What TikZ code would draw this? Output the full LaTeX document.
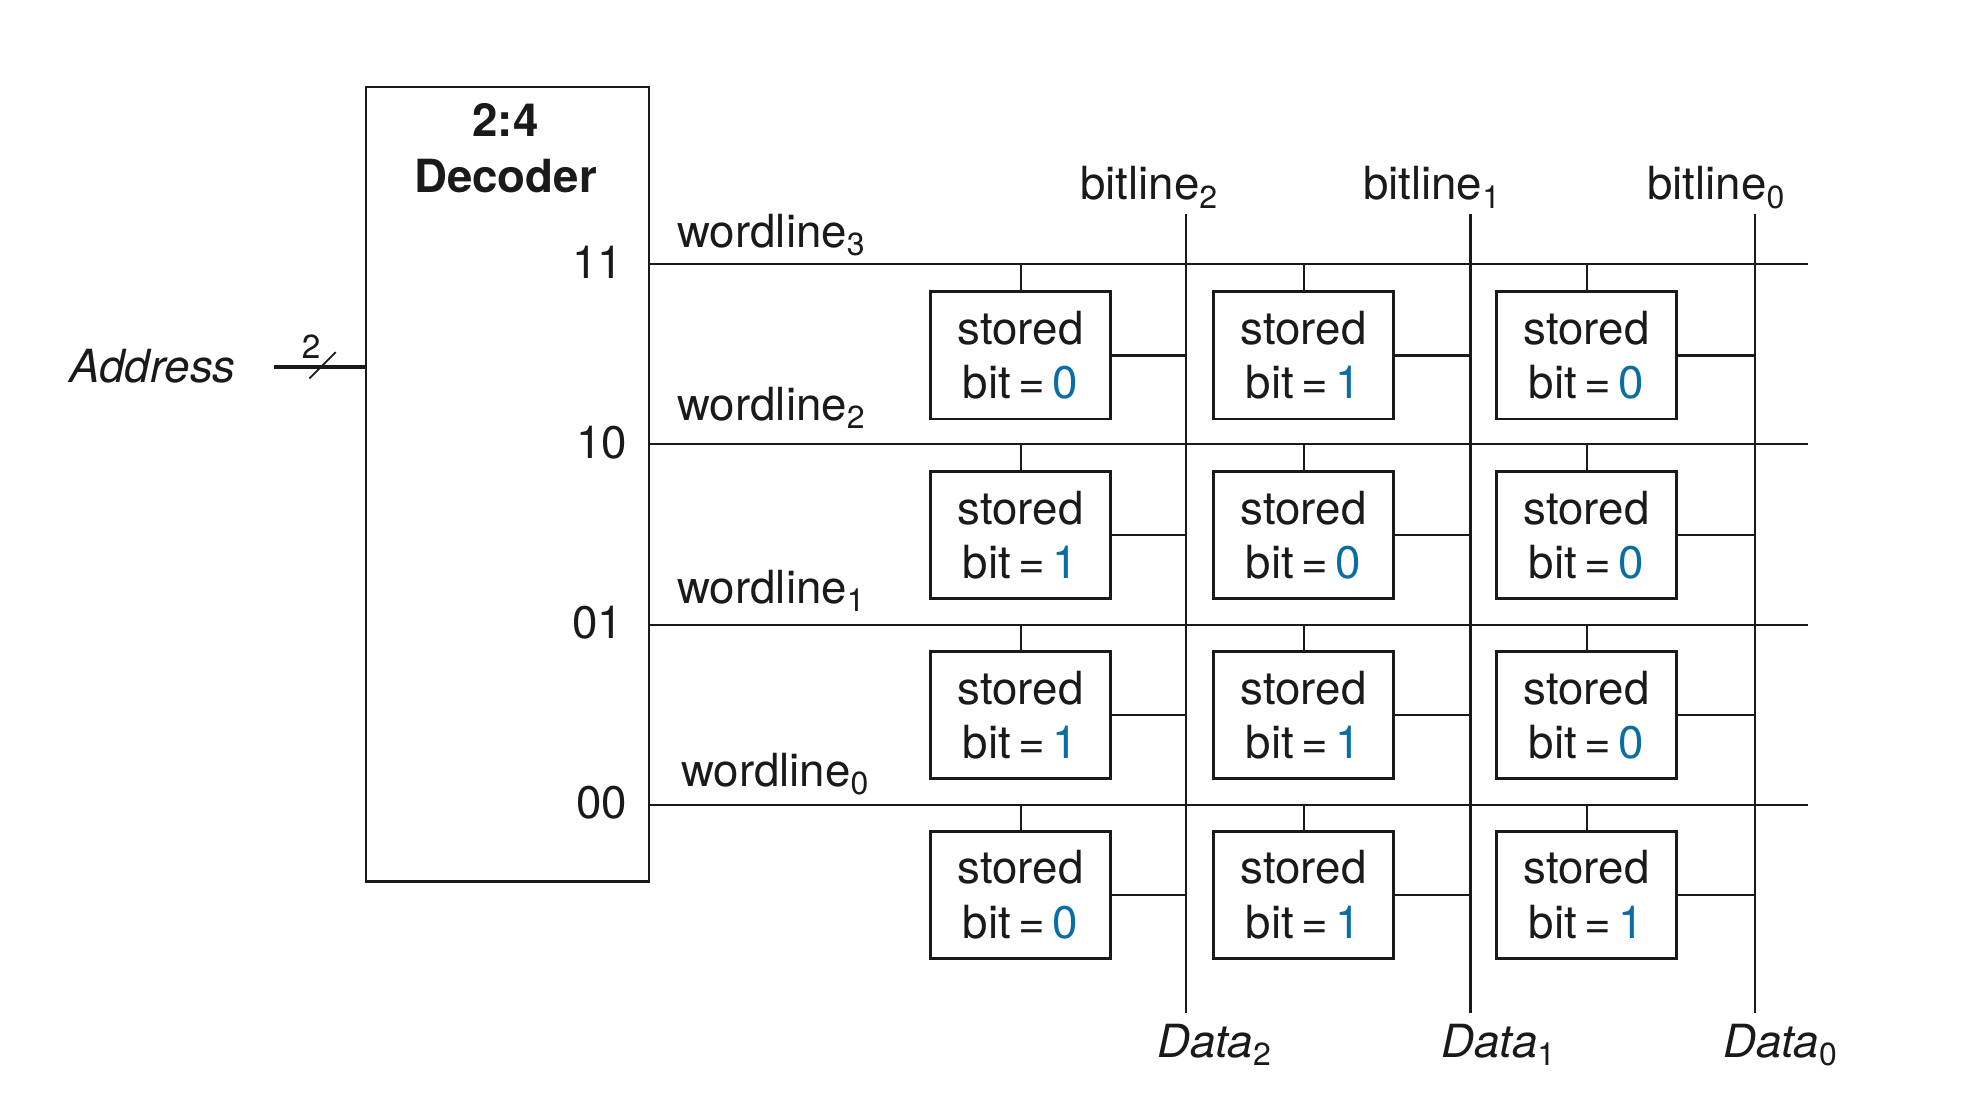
\documentclass[tikz,border=0pt]{standalone}
\usepackage{fontspec}
\setmainfont{TeX Gyre Heros}
\usepackage{xcolor}
\usetikzlibrary{calc, positioning}
\definecolor{k1}{HTML}{1a1a1a}
\definecolor{bb}{RGB}{10, 110, 165}
\newcommand{\bitval}[1]{bit\,=\,\textcolor{bb}{#1}}

\begin{document}
\begin{tikzpicture}[scale=1.258,
	every node/.style={font=\fontsize{13}{15.5}\selectfont, text=k1, inner sep=0pt},
	wire/.style={draw=k1, line width=0.65pt},
	bus/.style={draw=k1, line width=1.1pt},
	cell/.style={draw=k1, line width=0.75pt, fill=white, minimum width=1.80cm, minimum height=1.271cm, align=center}]
	\useasboundingbox (0,0) rectangle (15.68,-8.857);

	% decoder
	\node[draw=k1, line width=0.75pt, minimum width=2.83cm, minimum height=7.95cm, anchor=north west] (dec) at (2.90,-0.68) {};
	\node[font=\fontsize{13}{15.8}\selectfont\bfseries, align=center, anchor=north] (declbl) at (4.02,-0.82) {2:4\\Decoder};
	\node[anchor=east] (o3) at (4.96,-2.085) {11};
	\node[anchor=east] (o2) at (4.99,-3.52) {10};
	\node[anchor=east] (o1) at (4.96,-4.95) {01};
	\node[anchor=east] (o0) at (4.99,-6.38) {00};

	% address bus
	\node[anchor=base east] (addr) at (1.88,-3.04) {\itshape Address};
	\coordinate (ain) at (2.18,-2.92);
	\draw[bus] (ain) -- (ain -| dec.west);
	\draw[wire, line width=0.5pt] (2.46,-3.01) -- (2.67,-2.80);
	\node (bw) at (2.475,-2.755) {\fontsize{9.5}{10}\selectfont 2};

	% wordlines
	\coordinate (w3) at (5.15,-2.10); \coordinate (w3e) at (14.37,-2.10);
	\coordinate (w2) at (5.15,-3.53); \coordinate (w2e) at (14.37,-3.53);
	\coordinate (w1) at (5.15,-4.97); \coordinate (w1e) at (14.37,-4.97);
	\coordinate (w0) at (5.15,-6.40); \coordinate (w0e) at (14.37,-6.40);
	\draw[wire] (w3) -- (w3e);
	\draw[wire] (w2) -- (w2e);
	\draw[wire] (w1) -- (w1e);
	\draw[wire] (w0) -- (w0e);
	\node[anchor=base west] (wl3) at (5.38,-1.965) {wordline\textsubscript{3}};
	\node[anchor=base west] (wl2) at (5.38,-3.345) {wordline\textsubscript{2}};
	\node[anchor=base west] (wl1) at (5.38,-4.795) {wordline\textsubscript{1}};
	\node[anchor=base west] (wl0) at (5.41,-6.255) {wordline\textsubscript{0}};

	% bitlines
	\coordinate (b2t) at (9.43,-1.70); \coordinate (b2b) at (9.43,-8.05);
	\coordinate (b1t) at (11.69,-1.70); \coordinate (b1b) at (11.69,-8.05);
	\coordinate (b0t) at (13.95,-1.70); \coordinate (b0b) at (13.95,-8.05);
	\draw[wire] (b2t) -- (b2b);
	\draw[wire] (b1t) -- (b1b);
	\draw[wire] (b0t) -- (b0b);
	\node[anchor=base] (bl2) at (9.14,-1.59) {bitline\textsubscript{2}};
	\node[anchor=base] (bl1) at (11.39,-1.59) {bitline\textsubscript{1}};
	\node[anchor=base] (bl0) at (13.65,-1.59) {bitline\textsubscript{0}};
	\node[anchor=base] (d2) at (9.66,-8.41) {\itshape Data\textsubscript{\upshape 2}};
	\node[anchor=base] (d1) at (11.92,-8.41) {\itshape Data\textsubscript{\upshape 1}};
	\node[anchor=base] (d0) at (14.16,-8.41) {\itshape Data\textsubscript{\upshape 0}};

	% cells
	\node[cell] (c32) at (8.115,-2.825) {stored\\\bitval{0}};
	\node[cell] (c31) at (10.365,-2.825) {stored\\\bitval{1}};
	\node[cell] (c30) at (12.615,-2.825) {stored\\\bitval{0}};
	\node[cell] (c22) at (8.115,-4.255) {stored\\\bitval{1}};
	\node[cell] (c21) at (10.365,-4.255) {stored\\\bitval{0}};
	\node[cell] (c20) at (12.615,-4.255) {stored\\\bitval{0}};
	\node[cell] (c12) at (8.115,-5.685) {stored\\\bitval{1}};
	\node[cell] (c11) at (10.365,-5.685) {stored\\\bitval{1}};
	\node[cell] (c10) at (12.615,-5.685) {stored\\\bitval{0}};
	\node[cell] (c02) at (8.115,-7.115) {stored\\\bitval{0}};
	\node[cell] (c01) at (10.365,-7.115) {stored\\\bitval{1}};
	\node[cell] (c00) at (12.615,-7.115) {stored\\\bitval{1}};

	\draw[wire] (c32.north) -- (c32.north |- w3) (c32.east) -- (c32.east -| b2t);
	\draw[wire] (c31.north) -- (c31.north |- w3) (c31.east) -- (c31.east -| b1t);
	\draw[wire] (c30.north) -- (c30.north |- w3) (c30.east) -- (c30.east -| b0t);
	\draw[wire] (c22.north) -- (c22.north |- w2) (c22.east) -- (c22.east -| b2t);
	\draw[wire] (c21.north) -- (c21.north |- w2) (c21.east) -- (c21.east -| b1t);
	\draw[wire] (c20.north) -- (c20.north |- w2) (c20.east) -- (c20.east -| b0t);
	\draw[wire] (c12.north) -- (c12.north |- w1) (c12.east) -- (c12.east -| b2t);
	\draw[wire] (c11.north) -- (c11.north |- w1) (c11.east) -- (c11.east -| b1t);
	\draw[wire] (c10.north) -- (c10.north |- w1) (c10.east) -- (c10.east -| b0t);
	\draw[wire] (c02.north) -- (c02.north |- w0) (c02.east) -- (c02.east -| b2t);
	\draw[wire] (c01.north) -- (c01.north |- w0) (c01.east) -- (c01.east -| b1t);
	\draw[wire] (c00.north) -- (c00.north |- w0) (c00.east) -- (c00.east -| b0t);
\end{tikzpicture}
\end{document}
